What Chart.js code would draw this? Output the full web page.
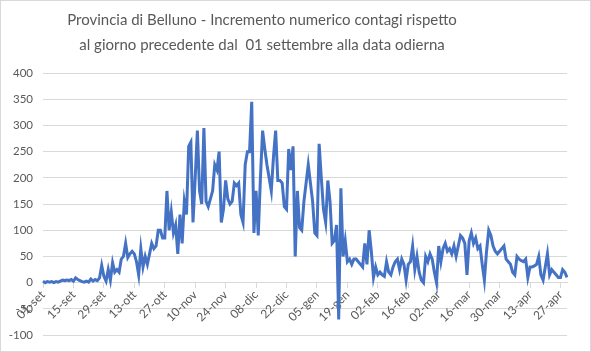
<!DOCTYPE html>
<html>
<head>
<meta charset="utf-8">
<script src="https://cdn.jsdelivr.net/npm/chart.js@4.4.0/dist/chart.umd.min.js"></script>
<style>
  body { margin: 0; background: #fff; }
  #box { width: 591px; height: 352px; }
</style>
</head>
<body>
<div id="box"><canvas id="myChart" width="591" height="352"></canvas></div>
<script>
// mesi e giorni dal 01 settembre al 30 aprile
var mesi = ['set', 'ott', 'nov', 'dic', 'gen', 'feb', 'mar', 'apr'];
var giorniMese = [30, 31, 30, 31, 31, 28, 31, 30];

// incremento giornaliero contagi
var incrementi = [
  3, 0, 2, 1, 2, 0, 2, 1, 3, 5, 4, 5, 4, 6, 3, 9, 6, 4, 2, 1, 3, 1, 7, 3, 6, 4, 9, 33, 12, 3,
  25, 5, 38, 20, 25, 20, 45, 50, 75, 48, 55, 60, 55, 40, 15, 65, 30, 50, 35, 55, 75, 65, 70, 100, 100, 85, 85, 175, 100, 135, 95,
  110, 55, 130, 75, 155, 130, 260, 268, 115, 200, 290, 175, 150, 295, 155, 145, 160, 175, 225, 215, 250, 115, 140, 195, 160, 150, 155, 190, 185, 190,
  130, 115, 225, 250, 250, 345, 95, 175, 90, 200, 290, 255, 225, 200, 175, 240, 290, 195, 195, 190, 145, 140, 255, 215, 260, 50, 175, 105, 100, 155, 190,
  225, 190, 155, 95, 90, 265, 200, 140, 115, 195, 155, 75, 80, 110, -70, 180, 50, 80, 40, 45, 35, 45, 45, 40, 35, 30, 75, 35, 100, 60,
  10, 30, 15, 20, 15, 12, 40, 20, 15, 30, 40, 45, 25, 45, 35, 5, 35, 40, 70, 25, 50, 20, 5, 0, 50, 40, 55, 45,
  20, 0, 70, 40, 65, 75, 60, 65, 55, 70, 50, 70, 90, 85, 75, 15, 80, 95, 75, 85, 65, 70, 35, 5, 60, 100, 90, 70, 60, 55, 60,
  65, 70, 45, 40, 35, 20, 15, 50, 45, 42, 40, 45, 10, 30, 30, 32, 35, 50, 15, 5, 30, 55, 15, 25, 20, 15, 10, 10, 25, 20, 10
];

var titolo = ['Provincia di Belluno - Incremento numerico contagi rispetto',
              'al giorno precedente dal  01 settembre alla data odierna'];

var etichette = [];
for (var m = 0; m < mesi.length; m++) {
  for (var g = 1; g <= giorniMese[m]; g++) {
    etichette.push((g < 10 ? '0' + g : '' + g) + '-' + mesi[m]);
  }
}

var grigio = '#595959';
var griglia = '#d9d9d9';

// cornice esterna + titolo (in Excel il titolo non e' centrato sul canvas)
var cornice = {
  id: 'cornice',
  afterDraw: function(chart) {
    var ctx = chart.ctx;
    ctx.save();
    ctx.strokeStyle = griglia;
    ctx.lineWidth = 1;
    ctx.strokeRect(0.5, 0.5, chart.width - 1, chart.height - 1);
    ctx.fillStyle = grigio;
    ctx.font = '15px Lato';
    ctx.textAlign = 'center';
    ctx.textBaseline = 'middle';
    ctx.fillText(titolo[0], 262, 20);
    ctx.fillText(titolo[1], 262, 45);
    ctx.restore();
  }
};

document.addEventListener('DOMContentLoaded', function() {
  var config = {
    type: 'line',
    data: {
      labels: etichette,
      datasets: [{
        label: 'Incremento',
        data: incrementi,
        borderColor: '#4472c4',
        backgroundColor: '#4472c4',
        borderWidth: 3,
        pointRadius: 0,
        tension: 0
      }]
    },
    options: {
      responsive: false,
      animation: false,
      layout: { padding: { left: 0, right: 24, top: 73, bottom: 12 } },
      plugins: {
        legend: { display: false },
        tooltip: { enabled: false },
        title: { display: false }
      },
      scales: {
        x: {
          position: { y: 0 },
          offset: false,
          afterFit: function(s) { s.height = 0; },
          grid: { drawOnChartArea: false, drawTicks: true, tickLength: 5, color: griglia },
          border: { color: griglia },
          ticks: {
            autoSkip: false,
            minRotation: 45,
            maxRotation: 45,
            padding: 0,
            color: grigio,
            font: { family: 'Lato', size: 12 },
            callback: function(value, index) {
              return index % 14 === 0 ? this.getLabelForValue(value) : null;
            }
          }
        },
        y: {
          min: -100,
          max: 400,
          afterFit: function(s) { s.width = 43; },
          grid: { color: griglia, drawTicks: false },
          border: { display: false },
          ticks: {
            stepSize: 50,
            padding: 10,
            color: grigio,
            font: { family: 'Lato', size: 11.5 }
          }
        }
      }
    },
    plugins: [cornice]
  };
  var myChart = new Chart(document.getElementById('myChart'), config);
});
</script>
</body>
</html>
